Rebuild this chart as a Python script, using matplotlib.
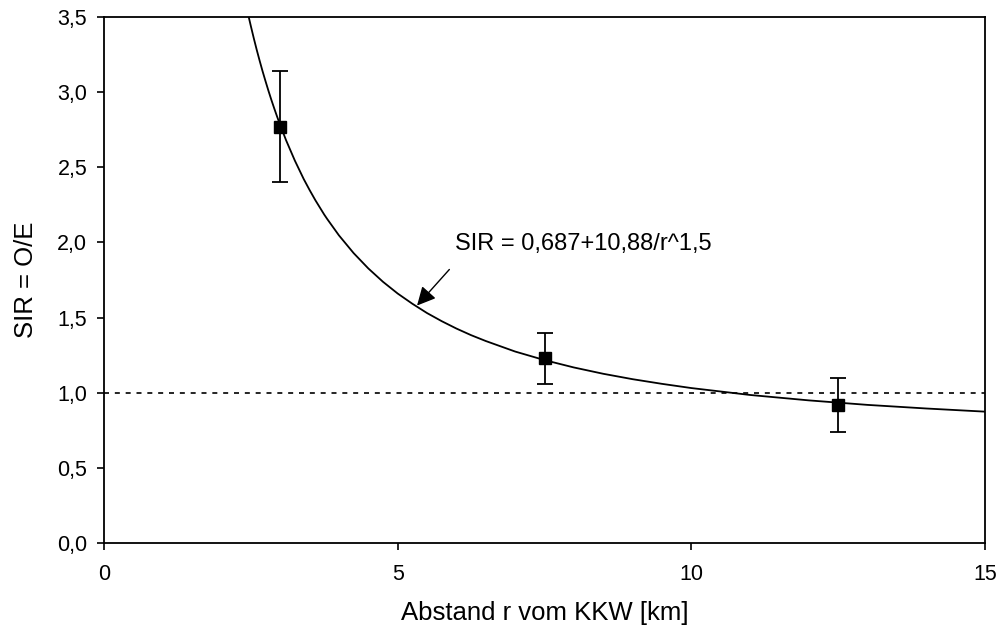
import numpy as np
import matplotlib
matplotlib.use('Agg')
import matplotlib.pyplot as plt
from matplotlib.ticker import FuncFormatter

plt.rcParams['font.family'] = ['Liberation Sans', 'DejaVu Sans']

# measured SIR per distance band
abstand = [3.0, 7.5, 12.5]
sir = [2.77, 1.23, 0.92]
sir_unten = [2.40, 1.06, 0.74]
sir_oben = [3.14, 1.40, 1.10]

# fitted curve
kurve_r = [2.46, 2.5, 2.55, 2.6, 2.65, 2.7, 2.75, 2.8, 2.85, 2.9, 2.95, 3.0,
           3.1, 3.25, 3.4, 3.5, 3.6, 3.75, 3.8, 4.0, 4.25, 4.5, 4.75, 5.0,
           5.25, 5.5, 5.75, 6.0, 6.25, 6.5, 7.0, 7.5, 8.0, 8.5, 9.0, 9.5,
           10.0, 11.0, 12.0, 13.0, 14.0, 15.0]
kurve_sir = [3.507, 3.440, 3.359, 3.282, 3.209, 3.139, 3.073, 3.009, 2.948,
             2.890, 2.834, 2.781, 2.680, 2.544, 2.422, 2.349, 2.280, 2.185,
             2.156, 2.047, 1.929, 1.827, 1.738, 1.660, 1.592, 1.530, 1.476,
             1.427, 1.383, 1.344, 1.274, 1.217, 1.168, 1.126, 1.090, 1.059,
             1.031, 0.985, 0.949, 0.919, 0.895, 0.874]

formel = 'SIR = 0,687+10,88/r^1,5'

fig = plt.figure(figsize=(10.07, 6.3), dpi=100)
ax = fig.add_axes([104/1007, 1-543/630, 881/1007, 526/630])

ax.plot(kurve_r, kurve_sir, color='black', lw=1.3)
ax.axhline(1.0, color='black', lw=1.2, ls=(0, (3, 3.5)))

yerr = [np.array(sir) - np.array(sir_unten), np.array(sir_oben) - np.array(sir)]
ax.errorbar(abstand, sir, yerr=yerr, fmt='s', color='black', ms=8.5,
            capsize=6, elinewidth=1.3, capthick=1.3)

ax.annotate('', xy=(5.33, 1.58), xytext=(5.88, 1.82),
            arrowprops=dict(arrowstyle='-|>', color='black', lw=1,
                            mutation_scale=28, shrinkA=0, shrinkB=0))
ax.text(5.97, 1.99, formel, fontsize=17, ha='left', va='center')

ax.set_xlim(0, 15)
ax.set_ylim(0, 3.5)
ax.set_xticks([0, 5, 10, 15])
ax.set_yticks(np.arange(0, 3.51, 0.5))
ax.yaxis.set_major_formatter(FuncFormatter(lambda v, p: ('%.1f' % v).replace('.', ',')))
ax.tick_params(direction='out', length=5, width=1.2, labelsize=15.5)
ax.tick_params(axis='x', pad=10)
ax.tick_params(axis='y', pad=7)
for s in ax.spines.values():
    s.set_linewidth(1.3)

ax.set_xlabel('Abstand r vom KKW [km]', fontsize=18.5, va='center')
ax.set_ylabel('SIR = O/E', fontsize=18.5, va='center')
ax.xaxis.set_label_coords(0.5, -0.133)
ax.yaxis.set_label_coords(-0.089, 0.5)

plt.savefig('out.png', dpi=100)
